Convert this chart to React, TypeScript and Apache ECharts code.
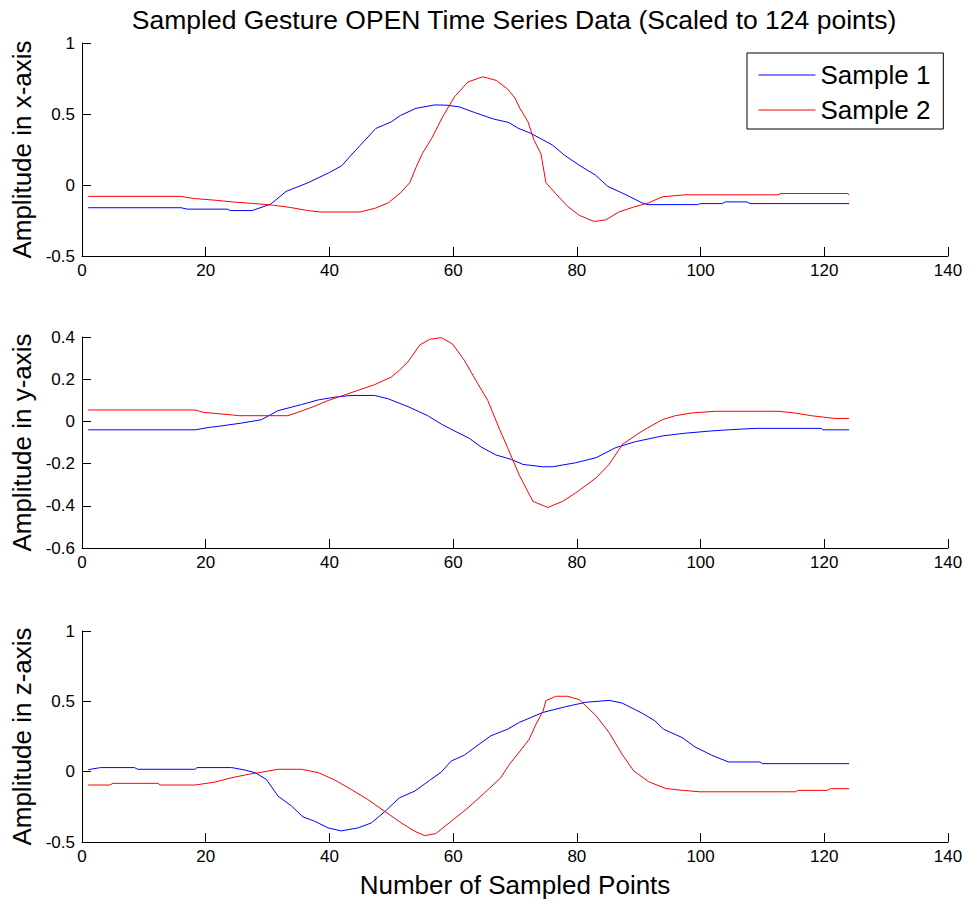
import React, { useEffect, useRef } from "react";
import * as echarts from "echarts";

const titleText = "Sampled Gesture OPEN Time Series Data (Scaled to 124 points)";
const seriesNames = ["Sample 1", "Sample 2"];
const yAxisNames = ["Amplitude in x-axis", "Amplitude in y-axis", "Amplitude in z-axis"];
const xAxisName = "Number of Sampled Points";
const xTicks = { min: 0, max: 140, interval: 20 };
const yTicks = [
  { min: -0.5, max: 1, interval: 0.5 },
  { min: -0.6, max: 0.4, interval: 0.2 },
  { min: -0.5, max: 1, interval: 0.5 },
];

// x-axis amplitude
const xSample1 = [
  [1, -0.16], [16, -0.16], [17, -0.17], [23.5, -0.17], [24, -0.18], [27.5, -0.18], [30.5, -0.135],
  [33, -0.045], [36.5, 0.015], [40, 0.088], [42, 0.136], [43.5, 0.21], [45, 0.28], [47.5, 0.398],
  [50, 0.445], [51.5, 0.49], [54, 0.54], [57, 0.564], [59, 0.562], [61, 0.55], [63.5, 0.51],
  [66.5, 0.465], [69, 0.44], [70.5, 0.4], [72.5, 0.365], [76, 0.283], [78, 0.21], [80.5, 0.136],
  [83, 0.07], [85, -0.01], [88, -0.07], [90.5, -0.125], [91.5, -0.138], [99.5, -0.138], [100, -0.131],
  [103.5, -0.131], [104, -0.119], [107.5, -0.119], [108, -0.131], [124, -0.131],
];
const xSample2 = [
  [1, -0.08], [16, -0.08], [18, -0.095], [21.5, -0.107], [24.5, -0.12], [28, -0.131], [31, -0.143],
  [33.5, -0.157], [36.5, -0.18], [38.5, -0.19], [45, -0.19], [47.5, -0.162], [49.5, -0.126],
  [51.5, -0.055], [53, 0.017], [54, 0.124], [55, 0.22], [56.5, 0.326], [58.3, 0.48], [60.2, 0.62],
  [62.4, 0.726], [64.8, 0.762], [67, 0.736], [68.8, 0.676], [70, 0.612], [70.8, 0.54], [72.1, 0.445],
  [73.1, 0.314], [74.2, 0.219], [75, 0.017], [76.6, -0.062], [78.5, -0.15], [80.4, -0.214],
  [82.8, -0.257], [84.7, -0.245], [86.8, -0.19], [89.2, -0.155], [91.6, -0.126], [93.8, -0.083],
  [97.5, -0.069], [112.5, -0.069], [113, -0.06], [123.8, -0.06], [124, -0.071],
];

// y-axis amplitude
const ySample1 = [
  [1, -0.04], [18.3, -0.04], [20.4, -0.029], [22.6, -0.021], [25.8, -0.008], [29, 0.008], [31.7, 0.051],
  [35.5, 0.08], [38.2, 0.102], [40.9, 0.115], [43.5, 0.123], [47.3, 0.123], [49.5, 0.107], [52.7, 0.07],
  [55.9, 0.027], [58.1, -0.013], [60.2, -0.045], [62.6, -0.08], [64.5, -0.121], [66.9, -0.159],
  [69.4, -0.18], [71.3, -0.204], [74.5, -0.215], [76.1, -0.215], [79.8, -0.196], [83.1, -0.172],
  [86.3, -0.124], [89.5, -0.096], [93.8, -0.069], [97.5, -0.056], [101.8, -0.045], [104.5, -0.04],
  [108.8, -0.033], [119.5, -0.033], [119.8, -0.04], [124, -0.04],
];
const ySample2 = [
  [1, 0.054], [18.3, 0.054], [19.6, 0.043], [22.6, 0.035], [25.5, 0.027], [33.3, 0.027], [34.9, 0.043],
  [37.6, 0.072], [39.8, 0.099], [41.9, 0.12], [44.6, 0.147], [47.3, 0.174], [50, 0.21], [51.3, 0.242],
  [52.7, 0.282], [54.6, 0.362], [56.2, 0.389], [58.1, 0.397], [59.9, 0.367], [61.8, 0.29], [64, 0.178],
  [65.6, 0.099], [67.5, -0.037], [68.8, -0.124], [70.7, -0.255], [72.9, -0.379], [75.3, -0.408],
  [77.7, -0.379], [79.8, -0.339], [83.1, -0.268], [85.2, -0.204], [87.4, -0.108], [90.6, -0.045],
  [93.8, 0.008], [95.9, 0.027], [98.6, 0.04], [102.4, 0.048], [112.5, 0.048], [115.2, 0.04],
  [117.9, 0.027], [121.7, 0.014], [124, 0.014],
];

// z-axis amplitude
const zSample1 = [
  [1, 0.014], [3, 0.029], [8.5, 0.029], [9, 0.017], [18.3, 0.017], [18.6, 0.029], [24.2, 0.029],
  [26.3, 0.012], [28, -0.007], [29.8, -0.055], [31.7, -0.174], [33.9, -0.245], [35.7, -0.321],
  [37.6, -0.352], [39.8, -0.4], [41.9, -0.421], [44.6, -0.4], [46.8, -0.364], [48.9, -0.286],
  [51.3, -0.186], [53.8, -0.138], [56.2, -0.062], [58.1, -0.002], [59.7, 0.076], [61.8, 0.117],
  [63.7, 0.179], [66.1, 0.255], [68.8, 0.302], [70.7, 0.35], [74.5, 0.421], [78.2, 0.462],
  [81.4, 0.493], [85.2, 0.507], [87.3, 0.488], [90.5, 0.417], [92.6, 0.362], [94, 0.302], [97, 0.243],
  [99.1, 0.176], [101.8, 0.117], [104.5, 0.069], [109.6, 0.069], [110, 0.057], [124, 0.057],
];
const zSample2 = [
  [1, -0.095], [4.5, -0.095], [5, -0.083], [12.3, -0.083], [12.6, -0.095], [18.3, -0.095],
  [21.5, -0.074], [24.2, -0.043], [26.9, -0.019], [29.6, 0], [31.7, 0.017], [35.5, 0.017],
  [38.2, -0.007], [40.9, -0.06], [43.5, -0.126], [46.2, -0.198], [48.9, -0.281], [51.6, -0.364],
  [53.8, -0.424], [55.4, -0.455], [57.2, -0.44], [59.7, -0.352], [62.4, -0.257], [65.1, -0.15],
  [67.7, -0.043], [69.1, 0.052], [70.7, 0.14], [72.3, 0.231], [73.4, 0.338], [74.5, 0.426], [75, 0.505],
  [76.6, 0.536], [78.5, 0.536], [80.4, 0.512], [83.1, 0.398], [85.2, 0.279], [87.3, 0.124],
  [89.2, 0.005], [91.6, -0.071], [94.3, -0.119], [96.7, -0.131], [99.9, -0.143], [115.4, -0.143],
  [115.7, -0.133], [120.5, -0.133], [121, -0.121], [124, -0.121],
];

const panels = [
  [xSample1, xSample2],
  [ySample1, ySample2],
  [zSample1, zSample2],
];
const colors = ["#0000ff", "#ff0000"];
const FONT = "'Liberation Sans', Arial, Helvetica, sans-serif";

export default function App() {
  const ref = useRef<HTMLDivElement>(null);
  useEffect(() => {
    document.body.style.margin = "0";
    if (!ref.current) return;
    const chart = echarts.init(ref.current, null, { renderer: "svg" });
    const gridTops = [43, 337, 631];
    const gridHeights = [213, 211, 211];
    const axisStyle = { lineStyle: { color: "#000", width: 1 } };
    const option: any = {
      animation: false,
      backgroundColor: "#fff",
      textStyle: { fontFamily: FONT },
      graphic: [
        {
          type: "text",
          x: 514,
          y: 20,
          style: {
            text: titleText,
            fill: "#000",
            font: `26.5px ${FONT}`,
            textAlign: "center",
            textVerticalAlign: "middle",
          },
        },
      ],
      legend: {
        data: seriesNames,
        left: 747,
        top: 53,
        orient: "vertical",
        padding: [9, 13, 6, 11],
        itemGap: 9,
        itemWidth: 57,
        itemHeight: 26,
        borderColor: "#000",
        borderWidth: 1,
        backgroundColor: "#fff",
        itemStyle: { opacity: 0 },
        lineStyle: { width: 1 },
        textStyle: { fontSize: 26, color: "#000", fontFamily: FONT, lineHeight: 26 },
      },
      grid: gridTops.map((t, i) => ({ left: 82, width: 866, top: t, height: gridHeights[i] })),
      xAxis: panels.map((_, i) => ({
        type: "value",
        gridIndex: i,
        min: xTicks.min,
        max: xTicks.max,
        interval: xTicks.interval,
        splitLine: { show: false },
        axisLine: { show: true, onZero: false, ...axisStyle },
        axisTick: { show: true, inside: true, length: 9, ...axisStyle },
        axisLabel: { color: "#000", fontSize: 17, margin: 6, fontFamily: FONT },
        name: i === 2 ? xAxisName : "",
        nameLocation: "middle",
        nameGap: 30,
        nameTextStyle: { fontSize: 26, color: "#000", fontFamily: FONT },
      })),
      yAxis: panels.map((_, i) => ({
        type: "value",
        gridIndex: i,
        min: yTicks[i].min,
        max: yTicks[i].max,
        interval: yTicks[i].interval,
        splitLine: { show: false },
        axisLine: { show: true, onZero: false, ...axisStyle },
        axisTick: { show: true, inside: true, length: 9, ...axisStyle },
        axisLabel: { color: "#000", fontSize: 17, margin: 7, fontFamily: FONT },
        name: yAxisNames[i],
        nameLocation: "middle",
        nameRotate: 90,
        nameGap: 47,
        nameTextStyle: { fontSize: 26, color: "#000", fontFamily: FONT },
      })),
      series: panels.flatMap((pair, i) =>
        pair.map((data, j) => ({
          type: "line",
          name: seriesNames[j],
          xAxisIndex: i,
          yAxisIndex: i,
          data,
          symbol: "none",
          lineStyle: { color: colors[j], width: 1 },
          itemStyle: { color: colors[j] },
        }))
      ),
    };
    chart.setOption(option);
    return () => chart.dispose();
  }, []);
  return <div ref={ref} style={{ width: 970, height: 901 }} />;
}
